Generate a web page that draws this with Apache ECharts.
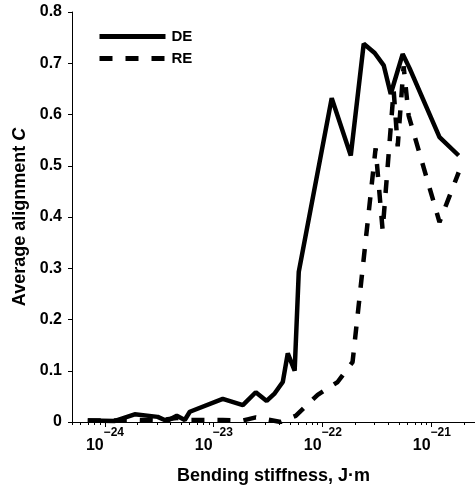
<!DOCTYPE html>
<html>
<head>
<meta charset="utf-8">
<script src="https://cdn.jsdelivr.net/npm/echarts@6/dist/echarts.min.js"></script>
<style>
  html, body { margin: 0; padding: 0; background: #fff; }
  #chart { width: 475px; height: 491px; }
</style>
</head>
<body>
<div id="chart"></div>
<script>
// Bending stiffness (J·m) and average alignment C for the DE runs
const deStiffness = [6.98e-25, 1.24e-24, 1.88e-24, 3.06e-24, 3.71e-24, 4.58e-24, 5.42e-24, 6.03e-24,
  1.21e-23, 1.85e-23, 2.43e-23, 3.06e-23, 3.63e-23, 4.30e-23, 4.78e-23, 5.53e-23, 6.03e-23,
  1.21e-22, 1.81e-22, 2.38e-22, 3.00e-22, 3.63e-22, 4.21e-22, 5.42e-22, 6.28e-22, 1.18e-21, 1.77e-21];
const deAlignment = [0.003, 0.002, 0.015, 0.010, 0.002, 0.012, 0.004, 0.020,
  0.045, 0.033, 0.058, 0.041, 0.056, 0.078, 0.134, 0.100, 0.293,
  0.632, 0.520, 0.738, 0.720, 0.696, 0.640, 0.718, 0.690, 0.556, 0.520];

// Same quantities for the RE runs
const reStiffness = [6.98e-25, 1.24e-24, 1.88e-24, 3.06e-24, 4.58e-24, 6.03e-24,
  1.21e-23, 1.85e-23, 2.43e-23, 3.06e-23, 4.12e-23, 5.65e-23, 8.99e-23,
  1.37e-22, 1.88e-22, 3.06e-22, 3.55e-22, 4.48e-22, 4.88e-22, 5.53e-22, 6.15e-22, 1.18e-21, 1.77e-21];
const reAlignment = [0.003, 0.003, 0.004, 0.003, 0.008, 0.004,
  0.004, 0.003, 0.009, 0.005, 0.000, 0.012, 0.053,
  0.078, 0.117, 0.534, 0.374, 0.647, 0.538, 0.694, 0.598, 0.390, 0.487];

// Axis ranges and tick positions
const xRange = [5e-25, 2.5e-21];
const xMinorMultipliers = [2, 3, 4, 5, 6, 7, 8, 9];
const xDecades = [1e-25, 1e-24, 1e-23, 1e-22, 1e-21];
const yRange = [0, 0.8];
const yStep = 0.1;

const FONT = '"Liberation Sans", Arial, Helvetica, sans-serif';

// Minor ticks (2..9 within each decade), placed on a companion axis that
// runs in log10 units over the same span as the main logarithmic axis.
const xMinorTickExps = [];
xDecades.forEach(d => {
  xMinorMultipliers.forEach(m => {
    const v = m * d;
    if (v >= xRange[0] && v <= xRange[1]) xMinorTickExps.push(Math.log10(v));
  });
});

const pairs = (xs, ys) => xs.map((x, i) => [x, ys[i]]);

const chart = echarts.init(document.getElementById('chart'), null, { renderer: 'canvas' });

chart.setOption({
  animation: false,
  backgroundColor: '#fff',
  textStyle: { fontFamily: FONT, color: '#000' },
  grid: { left: 72, right: 0, top: 12, bottom: 69, containLabel: false },
  legend: {
    orient: 'vertical',
    left: 97,
    top: 29,
    padding: 0,
    itemWidth: 66,
    itemHeight: 14,
    itemGap: 7,
    itemStyle: { opacity: 0 },
    lineStyle: { width: 5, cap: 'butt' },
    textStyle: { fontFamily: FONT, fontSize: 15, fontWeight: 'bold', color: '#000', padding: [0, 0, 0, 1] },
    data: [{ name: 'DE' }, { name: 'RE' }]
  },
  xAxis: [
    {
      type: 'log',
      position: 'bottom',
      min: xRange[0],
      max: xRange[1],
      logBase: 10,
      name: 'Bending stiffness, J\u00b7m',
      nameLocation: 'middle',
      nameGap: 45,
      nameTextStyle: { fontFamily: FONT, fontSize: 18, fontWeight: 'bold', color: '#000', verticalAlign: 'top' },
      axisLine: { lineStyle: { color: '#000', width: 1 } },
      axisTick: { show: true, length: 5, lineStyle: { color: '#000' } },
      splitLine: { show: false },
      axisLabel: {
        margin: 6,
        showMinLabel: false,
        showMaxLabel: false,
        formatter: v => {
          const e = Math.round(Math.log10(v));
          return '{s|' + (e < 0 ? '\u2212' : '') + Math.abs(e) + '}\n{b|10}';
        },
        rich: {
          s: { fontFamily: FONT, fontSize: 12, fontWeight: 'bold', color: '#000', lineHeight: 10, padding: [0, 0, 0, 18] },
          b: { fontFamily: FONT, fontSize: 16, fontWeight: 'bold', color: '#000', lineHeight: 16, padding: [0, 20, 0, 0] }
        }
      }
    },
    {
      type: 'value',
      position: 'bottom',
      min: Math.log10(xRange[0]),
      max: Math.log10(xRange[1]),
      axisLine: { show: false },
      axisTick: { show: true, length: 3, lineStyle: { color: '#000' }, customValues: xMinorTickExps },
      axisLabel: { show: false },
      splitLine: { show: false }
    }
  ],
  yAxis: {
    type: 'value',
    min: yRange[0],
    max: yRange[1],
    interval: yStep,
    name: '{a|Average alignment }{i|C}',
    nameLocation: 'middle',
    nameGap: 42,
    nameTextStyle: {
      rich: {
        a: { fontFamily: FONT, fontSize: 18, fontWeight: 'bold', color: '#000' },
        i: { fontFamily: FONT, fontSize: 18, fontWeight: 'bold', fontStyle: 'italic', color: '#000' }
      }
    },
    axisLine: { show: true, lineStyle: { color: '#000', width: 1 } },
    axisTick: { show: true, length: 4, lineStyle: { color: '#000' } },
    splitLine: { show: false },
    axisLabel: {
      margin: 10,
      fontFamily: FONT,
      fontSize: 16,
      fontWeight: 'bold',
      color: '#000',
      formatter: v => (v === 0 ? '0' : v.toFixed(1))
    }
  },
  series: [
    {
      name: 'DE',
      type: 'line',
      xAxisIndex: 0,
      symbol: 'none',
      data: pairs(deStiffness, deAlignment),
      lineStyle: { color: '#000', width: 4.5, type: 'solid' },
      itemStyle: { color: '#000' }
    },
    {
      name: 'RE',
      type: 'line',
      xAxisIndex: 0,
      symbol: 'none',
      data: pairs(reStiffness, reAlignment),
      lineStyle: { color: '#000', width: 4.5, type: [13, 13], cap: 'butt' },
      itemStyle: { color: '#000' }
    }
  ]
});
</script>
</body>
</html>
